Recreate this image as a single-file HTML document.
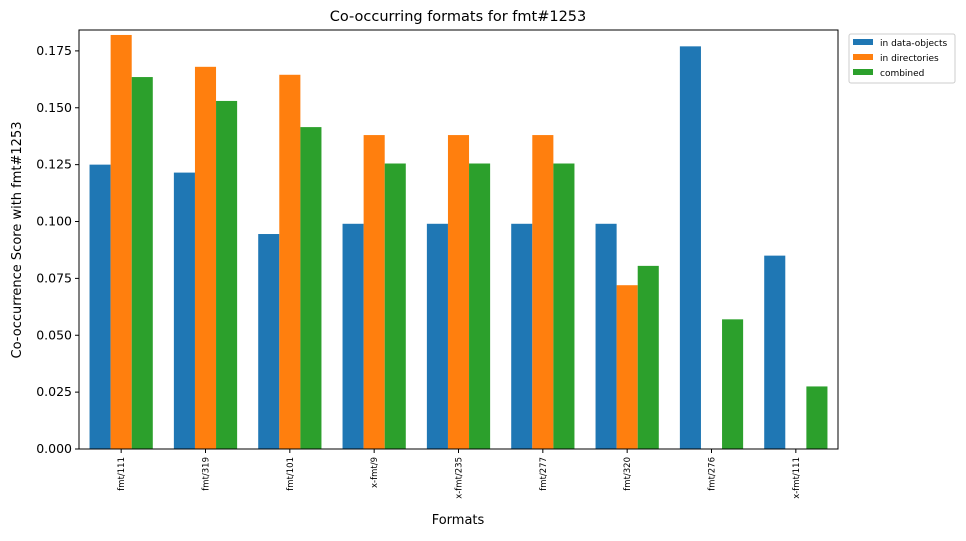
<!DOCTYPE html>
<html><head><meta charset="utf-8"><style>
body{margin:0;background:#fff;font-family:"Liberation Sans","DejaVu Sans",sans-serif}
</style></head><body>
<svg id="chart" width="966" height="536" xmlns="http://www.w3.org/2000/svg" font-family="DejaVu Sans, Liberation Sans, sans-serif">
<text x="458" y="21" text-anchor="middle" font-size="14.5">Co-occurring formats for fmt#1253</text>
<g id="plot"></g>
<text x="458" y="524" text-anchor="middle" font-size="13">Formats</text>
<text transform="translate(21,240) rotate(-90)" text-anchor="middle" font-size="13">Co-occurrence Score with fmt#1253</text>
<g>
<rect x="849" y="34" width="106" height="49" fill="#fff" stroke="#ccc" rx="2"/>
<rect x="853" y="39" width="20" height="6" fill="#1f77b4"/><text x="880" y="46" font-size="9">in data-objects</text>
<rect x="853" y="54" width="20" height="6" fill="#ff7f0e"/><text x="880" y="61" font-size="9">in directories</text>
<rect x="853" y="69" width="20" height="6" fill="#2ca02c"/><text x="880" y="76" font-size="9">combined</text>
</g>
</svg>
<script>
const categories=["fmt/111","fmt/319","fmt/101","x-fmt/9","x-fmt/235","fmt/277","fmt/320","fmt/276","x-fmt/111"];
const dataObjects=[0.125,0.1215,0.0945,0.099,0.099,0.099,0.099,0.177,0.085];
const directories=[0.182,0.168,0.1645,0.138,0.138,0.138,0.072,0,0];
const combined=[0.1635,0.153,0.1415,0.1255,0.1255,0.1255,0.0805,0.057,0.0275];
const yTicks=[0,0.025,0.05,0.075,0.1,0.125,0.15,0.175];
const L=79,R=838,T=30,B=449;
const ymax=Math.max(...dataObjects,...directories,...combined)*1.012;
const y=v=>B-(v/ymax)*(B-T);
const step=(R-L)/categories.length;
const x=i=>L+step*(i+0.5);
const g=document.getElementById('plot');
const NS="http://www.w3.org/2000/svg";
function mk(t,a){const e=document.createElementNS(NS,t);for(const k in a)e.setAttribute(k,a[k]);g.appendChild(e);return e;}
const series=[[dataObjects,"#1f77b4","blue"],[directories,"#ff7f0e","orange"],[combined,"#2ca02c","green"]];
const bw=step*0.75/3;
series.forEach(([vals,c,n],s)=>{vals.forEach((v,i)=>{
 const r=mk('rect',{x:x(i)-1.5*bw+s*bw,y:y(v),width:bw,height:B-y(v),fill:c});
 
 
});});
yTicks.forEach(t=>{
 mk('line',{x1:L-4,x2:L,y1:y(t),y2:y(t),stroke:'#000'});
 const e=mk('text',{x:L-7,y:y(t)+4,'text-anchor':'end','font-size':'12.5'});e.textContent=t.toFixed(3);
 
 
});
categories.forEach((c,i)=>{
 mk('line',{x1:x(i),x2:x(i),y1:B,y2:B+4,stroke:'#000'});
 const e=mk('text',{transform:`translate(${x(i)+3},${B+8}) rotate(-90)`,'text-anchor':'end','font-size':'8.5'});e.textContent=c;
 
 
});
const f=mk('rect',{x:L,y:T,width:R-L,height:B-T,fill:'none',stroke:'#000','stroke-width':1});


</script>
</body></html>
